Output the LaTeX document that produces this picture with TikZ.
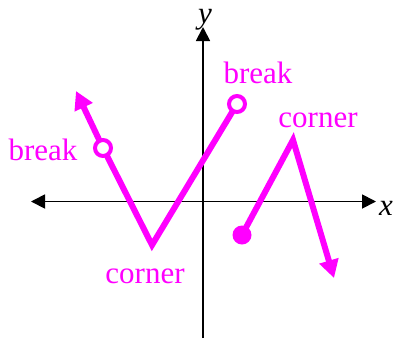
\documentclass[tikz,border=0pt]{standalone}
\usepackage{fontspec}
\setmainfont{Liberation Serif}
\usetikzlibrary{arrows.meta}
\definecolor{mag}{RGB}{255,0,255}
\begin{document}
\begin{tikzpicture}[x=1pt,y=-1pt,
  axis/.style={line width=1.8pt,black,{Triangle[length=14pt,width=14pt]}-{Triangle[length=14pt,width=14pt]}},
  curve/.style={line width=6pt,mag,line join=miter},
  lbl/.style={mag,font=\fontsize{31}{31}\selectfont,inner sep=0pt,anchor=base},
  axlbl/.style={font=\fontsize{31}{31}\selectfont\itshape,inner sep=0pt,anchor=base},
  openpt/.style={circle,draw=mag,fill=white,line width=4pt,minimum size=16pt,inner sep=0pt},
  fullpt/.style={circle,fill=mag,minimum size=19pt,inner sep=0pt}]
\useasboundingbox (0,0) rectangle (396,341);
% axes
\coordinate (xl) at (31,201.5);
\coordinate (xr) at (376,201.5);
\coordinate (yt) at (203,27);
\coordinate (yb) at (203,338);
\draw[axis] (xl) -- (xr);
\draw[line width=1.8pt,-{Triangle[length=14pt,width=14pt]}] (yb) -- (yt);
\node[axlbl] (xlab) at (386,215) {x};
\node[axlbl] (ylab) at (205,23) {y};
% left piece
\coordinate (a1) at (76,91);
\coordinate (p1) at (103,148);
\coordinate (c1) at (152,245);
\coordinate (p2) at (237,104);
\draw[curve,-{Triangle[length=18pt,width=19pt]}] (p1) -- (a1);
\draw[curve] (p1) -- (c1) -- (p2);
\node[openpt] (o1) at (p1) {};
\node[openpt] (o2) at (p2) {};
% right piece
\coordinate (d1) at (242,235);
\coordinate (c2) at (293,140);
\coordinate (a2) at (334,278);
\draw[curve,-{Triangle[length=18pt,width=19pt]}] (d1) -- (c2) -- (a2);
\node[fullpt] (f1) at (d1) {};
% labels
\node[lbl] (b1) at (43,160) {break};
\node[lbl] (b2) at (258,83) {break};
\node[lbl] (k1) at (318,127) {corner};
\node[lbl] (k2) at (145,283) {corner};
\end{tikzpicture}
\end{document}
